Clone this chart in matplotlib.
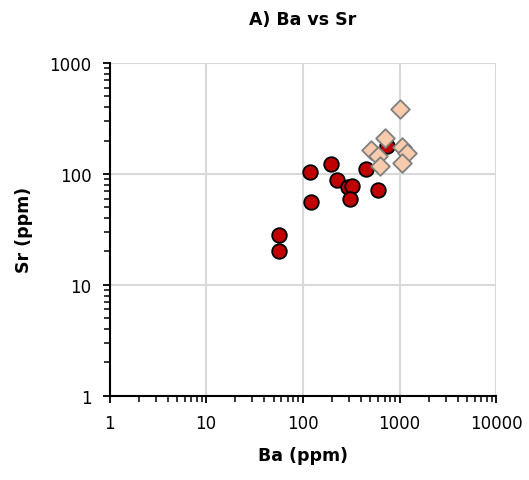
import numpy as np
import matplotlib.pyplot as plt
from matplotlib.ticker import LogLocator, FixedLocator, NullFormatter

# ======= DATA =====================================
ba_group1 = [119, 195, 225, 290, 326, 304, 450, 597, 741, 121, 56, 56]
sr_group1 = [104, 123, 89, 76, 77.5, 60, 110, 72, 177, 56, 28.4, 20.4]

ba_group2 = [1000, 711, 506, 597, 1059, 1194, 631, 1059]
sr_group2 = [385, 211, 165, 146, 174, 154, 117, 125]

x_ticks = [1, 10, 100, 1000, 10000]
y_ticks = [1, 10, 100, 1000]

# ======= PLOT ===========
fig = plt.figure(figsize=(5.29, 4.81), dpi=100)
ax = fig.add_axes([0.207, 0.175, 0.731, 0.692])

ax.scatter(ba_group1, sr_group1, s=110, marker='o', facecolor='#C00000',
           edgecolor='black', linewidth=1.3, zorder=3)
ax.scatter(ba_group2, sr_group2, s=90, marker='D', facecolor='#F8CBAD',
           edgecolor='#7F7F7F', linewidth=1.3, zorder=4)

ax.set_xscale('log')
ax.set_yscale('log')
ax.set_xlim(1, 10000)
ax.set_ylim(1, 1000)

ax.xaxis.set_major_locator(FixedLocator(x_ticks))
ax.yaxis.set_major_locator(FixedLocator(y_ticks))
ax.set_xticklabels([str(v) for v in x_ticks])
ax.set_yticklabels([str(v) for v in y_ticks])
ax.xaxis.set_minor_locator(LogLocator(base=10, subs=np.arange(2, 10)))
ax.yaxis.set_minor_locator(LogLocator(base=10, subs=np.arange(2, 10)))
ax.xaxis.set_minor_formatter(NullFormatter())
ax.yaxis.set_minor_formatter(NullFormatter())

ax.tick_params(which='major', direction='out', length=5, width=1.3,
               labelsize=12, colors='black', pad=8)
ax.tick_params(which='minor', direction='out', length=4, width=1.1)

ax.grid(True, which='major', color='#D9D9D9', linewidth=1.5, zorder=0)
ax.set_axisbelow(True)
for side in ['top', 'right']:
    ax.spines[side].set_visible(False)
for side in ['left', 'bottom']:
    ax.spines[side].set_linewidth(1.5)
    ax.spines[side].set_zorder(5)

ax.set_xlabel('Ba (ppm)', fontsize=12.5, fontweight='bold', labelpad=10)
ax.set_ylabel('Sr (ppm)', fontsize=12.5, fontweight='bold', labelpad=12)
ax.set_title('A) Ba vs Sr', fontsize=12.5, fontweight='bold', pad=28)

fig.savefig('out.png', dpi=100)
